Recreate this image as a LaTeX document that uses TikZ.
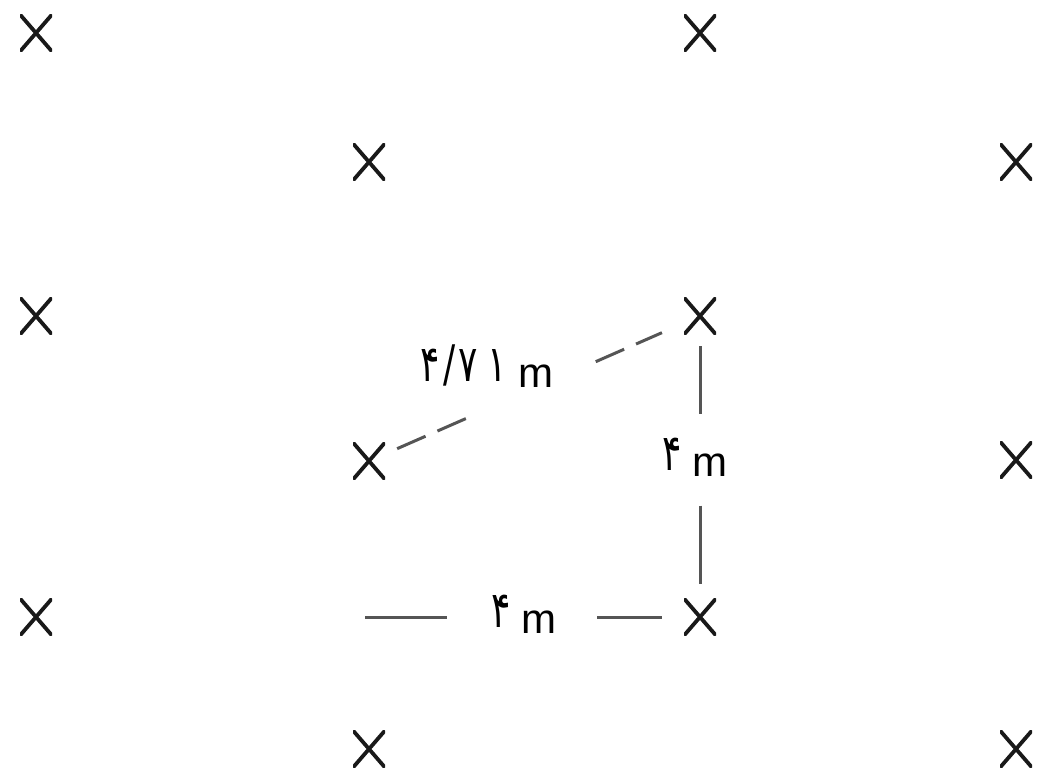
\documentclass[tikz,border=0pt]{standalone}
\usepackage{fontspec}
\setmainfont{Liberation Sans}
\newfontfamily\fa{DejaVu Sans}
\usetikzlibrary{calc}
\definecolor{dimgray}{RGB}{85,85,85}
\newcommand{\pd}[1]{\raisebox{6pt}{\scalebox{1}[1.4]{\fa\fontsize{36}{36}\selectfont #1}}}
\begin{document}
\begin{tikzpicture}[x=1pt,y=-1pt,
  xm/.style={minimum width=32pt,minimum height=37pt,inner sep=0pt,outer sep=0pt,
    path picture={\draw[line width=3.8pt,black!90]
      (path picture bounding box.south west) -- (path picture bounding box.north east)
      (path picture bounding box.north west) -- (path picture bounding box.south east);}},
  dim/.style={line width=3pt,draw=dimgray},
  dimdash/.style={dim,dash pattern=on 31pt off 13pt},
  lbl/.style={inner sep=0pt,anchor=base,font=\fontsize{42}{42}\selectfont}]
\useasboundingbox[fill=white] (0,0) rectangle (1051,779);
% grid of marks
\node[xm] (a1) at (36,33) {};
\node[xm] (a2) at (700,33) {};
\node[xm] (b1) at (369,162) {};
\node[xm] (b2) at (1016,162) {};
\node[xm] (c1) at (36,316) {};
\node[xm] (c2) at (700,316) {};
\node[xm] (d1) at (369,461) {};
\node[xm] (d2) at (1016,460) {};
\node[xm] (e1) at (36,617) {};
\node[xm] (e2) at (700,617) {};
\node[xm] (f1) at (369,749) {};
\node[xm] (f2) at (1016,749) {};
\coordinate (h0) at (365,617);
% diagonal dashed dimension
\draw[dimdash] ($(d1)!0.085!(c2)$) -- ($(d1)!0.30!(c2)$);
\draw[dimdash] ($(d1)!0.685!(c2)$) -- ($(d1)!0.885!(c2)$);
\node[lbl] (l1) at (487,387) {\pd{۴\hspace{3pt}/\hspace{3pt}۷\hspace{10pt}۱}\hspace{11pt}m};
% vertical dimension
\draw[dim] ($(c2)!0.10!(e2)$) -- ($(c2)!0.325!(e2)$);
\draw[dim] ($(c2)!0.63!(e2)$) -- ($(c2)!0.89!(e2)$);
\node[lbl] (l2) at (695,476) {\pd{۴}\hspace{11pt}m};
% horizontal dimension
\draw[dim] (h0) -- ($(h0)!0.245!(e2)$);
\draw[dim] ($(h0)!0.693!(e2)$) -- ($(h0)!0.887!(e2)$);
\node[lbl] (l3) at (524,633) {\pd{۴}\hspace{11pt}m};
\end{tikzpicture}
\end{document}
